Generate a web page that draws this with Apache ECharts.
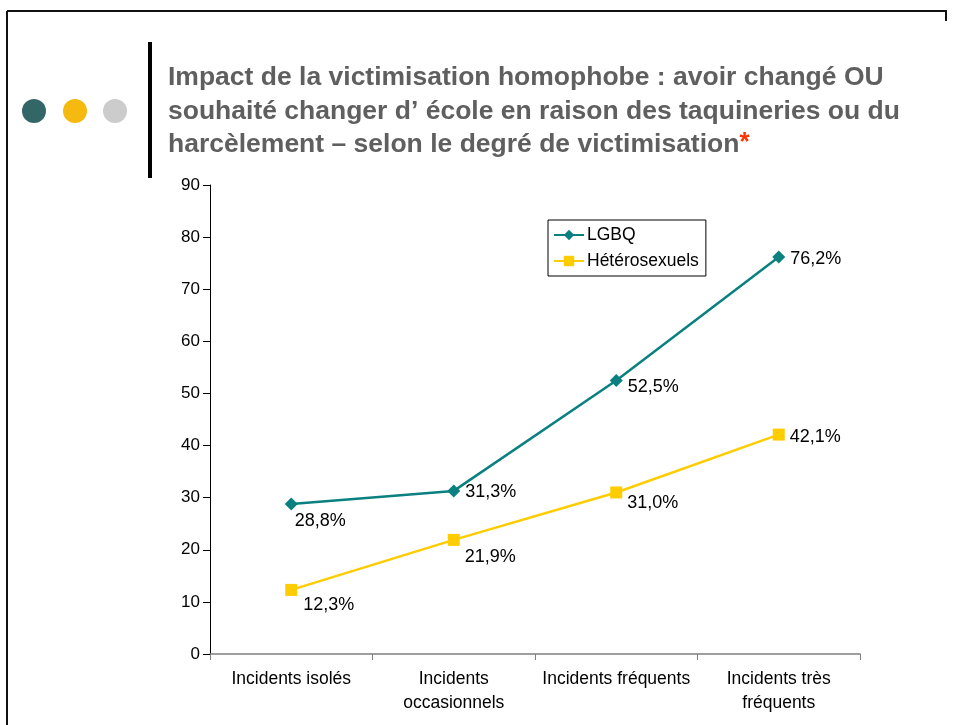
<!DOCTYPE html>
<html>
<head>
<meta charset="utf-8">
<script src="https://cdn.jsdelivr.net/npm/echarts@6/dist/echarts.min.js"></script>
<style>
html,body{margin:0;padding:0;background:#fff;}
#c{width:953px;height:725px;}
</style>
</head>
<body>
<div id="c"></div>
<script>
const categories = ["Incidents isolés", "Incidents\noccasionnels", "Incidents fréquents", "Incidents très\nfréquents"];
const seriesNames = ["LGBQ", "Hétérosexuels"];
const lgbqValues = [28.8, 31.3, 52.5, 76.2];
const heteroValues = [12.3, 21.9, 31.0, 42.1];
const yTicks = [0, 10, 20, 30, 40, 50, 60, 70, 80, 90];
const titleLines = [
  "Impact de la victimisation homophobe : avoir changé OU",
  "souhaité changer d\u2019 école en raison des taquineries ou du",
  "harcèlement \u2013 selon le degré de victimisation"
];

const FONT = "'Liberation Sans', Arial, sans-serif";

function fmt(v) { return v.toFixed(1).replace('.', ',') + '%'; }

// label offsets (presentation only)
const lgbqOffsets = [[-8, 17], [0, 1], [0, 7], [0, 2]];
const heteroOffsets = [[1, 15], [0, 17], [0, 11], [0, 2]];

function buildData(vals, offs) {
  return vals.map((v, i) => ({
    value: v,
    label: { offset: offs[i] }
  }));
}

const chart = echarts.init(document.getElementById('c'), null, { renderer: 'canvas' });

const option = {
  backgroundColor: '#ffffff',
  animation: false,
  title: {
    text: titleLines[0] + '\n' + titleLines[1] + '\n' + titleLines[2] + '{a|*}',
    left: 168,
    top: 61,
    padding: 0,
    textStyle: {
      fontFamily: FONT,
      fontWeight: 'bold',
      fontSize: 26.5,
      color: '#5f5f5f',
      lineHeight: 33.5,
      rich: {
        a: { color: '#ff3300', fontSize: 26, fontWeight: 'bold', fontFamily: FONT, lineHeight: 33.5, padding: [0, 0, 4, 0] }
      }
    }
  },
  graphic: [
    { type: 'line', shape: { x1: 7, y1: 11, x2: 947, y2: 11 }, style: { stroke: '#111', lineWidth: 2 } },
    { type: 'line', shape: { x1: 7, y1: 11, x2: 7, y2: 725 }, style: { stroke: '#111', lineWidth: 2 } },
    { type: 'line', shape: { x1: 946, y1: 11, x2: 946, y2: 21 }, style: { stroke: '#111', lineWidth: 2 } },
    { type: 'rect', shape: { x: 148, y: 42, width: 4, height: 136 }, style: { fill: '#000' } },
    { type: 'circle', shape: { cx: 34, cy: 111, r: 12 }, style: { fill: '#336666' } },
    { type: 'circle', shape: { cx: 75, cy: 111, r: 12 }, style: { fill: '#f5b90f' } },
    { type: 'circle', shape: { cx: 115, cy: 111, r: 12 }, style: { fill: '#cccccc' } }
  ],
  legend: {
    data: seriesNames,
    orient: 'vertical',
    left: 548,
    top: 220,
    backgroundColor: '#fff',
    borderColor: '#000',
    borderWidth: 1,
    borderRadius: 0,
    padding: [6, 7, 6, 5],
    itemGap: 8,
    itemWidth: 30,
    itemHeight: 13,
    textStyle: { fontFamily: FONT, fontSize: 17.5, color: '#000', padding: [0, 0, 0, -2] }
  },
  grid: { left: 210, right: 93, top: 185, bottom: 71, containLabel: false },
  xAxis: {
    type: 'category',
    data: categories,
    boundaryGap: true,
    axisLine: { lineStyle: { color: '#7f7f7f', width: 1.5 } },
    axisTick: { show: true, length: 6, lineStyle: { color: '#7f7f7f' } },
    axisLabel: {
      fontFamily: FONT, fontSize: 17.5, color: '#000', margin: 13, lineHeight: 24, interval: 0
    }
  },
  yAxis: {
    type: 'value',
    min: yTicks[0],
    max: yTicks[yTicks.length - 1],
    interval: yTicks[1] - yTicks[0],
    axisLine: { show: true, lineStyle: { color: '#000', width: 1 } },
    axisTick: { show: true, length: 7, lineStyle: { color: '#000' } },
    splitLine: { show: false },
    axisLabel: { fontFamily: FONT, fontSize: 17, color: '#000', margin: 10 }
  },
  series: [
    {
      name: seriesNames[0],
      type: 'line',
      data: buildData(lgbqValues, lgbqOffsets),
      symbol: 'diamond',
      symbolSize: 13,
      itemStyle: { color: '#0a8080' },
      lineStyle: { color: '#0a8080', width: 2.5 },
      label: {
        show: true, position: 'right', distance: 5,
        fontFamily: FONT, fontSize: 18, color: '#000',
        formatter: p => fmt(p.value)
      }
    },
    {
      name: seriesNames[1],
      type: 'line',
      data: buildData(heteroValues, heteroOffsets),
      symbol: 'rect',
      symbolSize: 12,
      itemStyle: { color: '#ffcc00' },
      lineStyle: { color: '#ffcc00', width: 2.5 },
      label: {
        show: true, position: 'right', distance: 5,
        fontFamily: FONT, fontSize: 18, color: '#000',
        formatter: p => fmt(p.value)
      }
    }
  ]
};

chart.setOption(option);
</script>
</body>
</html>
